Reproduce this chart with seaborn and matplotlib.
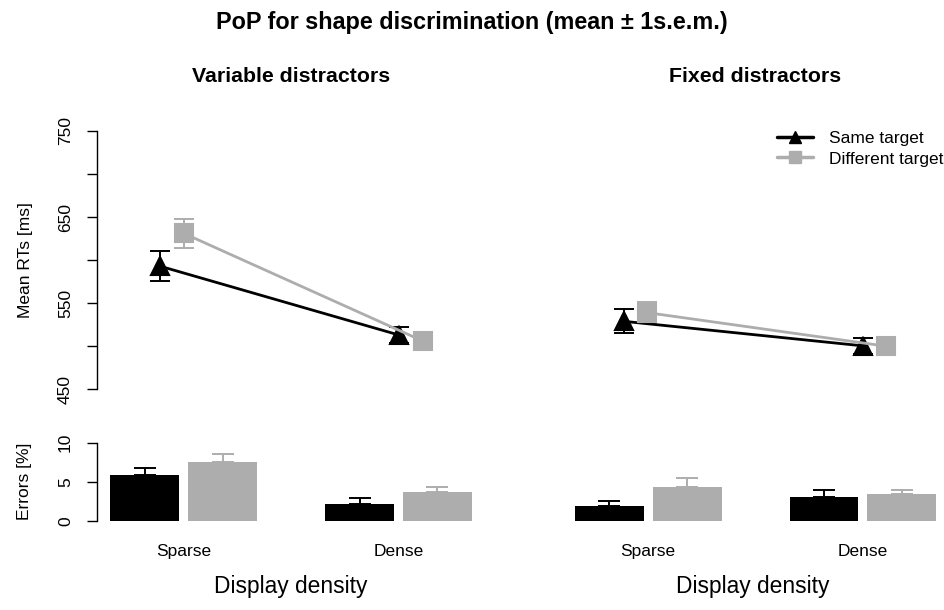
import matplotlib
matplotlib.use("Agg")
import matplotlib.pyplot as plt
from matplotlib.lines import Line2D
import pandas as pd
import seaborn as sns

# ---- data -------------------------------------------------------------
densities = ["Sparse", "Dense"]
targets = ["Same target", "Different target"]
conditions = ["Variable distractors", "Fixed distractors"]

# mean reaction times [ms] and s.e.m., ordered Sparse, Dense
rt_same_variable = [593, 513]
rt_same_variable_sem = [17.5, 9.5]
rt_diff_variable = [631, 506]
rt_diff_variable_sem = [16.5, 7.5]

rt_same_fixed = [529, 500.5]
rt_same_fixed_sem = [14, 9.5]
rt_diff_fixed = [539, 500]
rt_diff_fixed_sem = [12, 8]

# error rates [%] and s.e.m., ordered Sparse, Dense
err_same_variable = [5.8, 2.2]
err_same_variable_sem = [0.95, 0.72]
err_diff_variable = [7.55, 3.65]
err_diff_variable_sem = [1.0, 0.64]

err_same_fixed = [1.9, 3.0]
err_same_fixed_sem = [0.61, 0.94]
err_diff_fixed = [4.35, 3.4]
err_diff_fixed_sem = [1.11, 0.56]

BLACK = "#000000"
GRAY = "#ADADAD"
palette = [BLACK, GRAY]

panels = {
    "Variable distractors": dict(
        rt=(rt_same_variable, rt_diff_variable),
        rt_sem=(rt_same_variable_sem, rt_diff_variable_sem),
        err=(err_same_variable, err_diff_variable),
        err_sem=(err_same_variable_sem, err_diff_variable_sem),
    ),
    "Fixed distractors": dict(
        rt=(rt_same_fixed, rt_diff_fixed),
        rt_sem=(rt_same_fixed_sem, rt_diff_fixed_sem),
        err=(err_same_fixed, err_diff_fixed),
        err_sem=(err_same_fixed_sem, err_diff_fixed_sem),
    ),
}


def long_table(values):
    rows = []
    for tgt, vals in zip(targets, values):
        for dens, v in zip(densities, vals):
            rows.append({"density": dens, "target": tgt, "value": v})
    return pd.DataFrame(rows)


# ---- figure -----------------------------------------------------------
sns.set_style("white")
plt.rcParams["font.family"] = ["Liberation Sans", "DejaVu Sans"]
plt.rcParams.update({
    "axes.linewidth": 1.0,
    "axes.edgecolor": "black",
    "axes.labelcolor": "black",
    "text.color": "black",
    "xtick.color": "black",
    "ytick.color": "black",
})

W, H = 945, 610
fig = plt.figure(figsize=(W / 100, H / 100), dpi=100)


def px_axes(left, top, width, height):
    return fig.add_axes([left / W, 1 - (top + height) / H, width / W, height / H])


LABEL_FS = 12.5

layout = {
    "Variable distractors": dict(top=(96.7, 389.6, (-0.315, 1.315)),
                                 bottom=(96.7, 387.6, (-0.406, 1.40)),
                                 title_x=291),
    "Fixed distractors": dict(top=(560.2, 381.2, (-0.315, 1.28)),
                              bottom=(561.1, 383.3, (-0.406, 1.38)),
                              title_x=755),
}

for i, cond in enumerate(conditions):
    d = panels[cond]
    lay = layout[cond]

    # ---- reaction times: points joined by lines ----
    left, width, xlim = lay["top"]
    ax = px_axes(left, 131, width, 258.3)
    df_rt = long_table(d["rt"])
    sns.pointplot(data=df_rt, x="density", y="value", hue="target",
                  order=densities, hue_order=targets, palette=palette,
                  markers=["^", "s"], linestyles=["-", "-"], dodge=0.1,
                  errorbar=None, legend=False, ax=ax,
                  markersize=12.5, linewidth=2.0)
    series_lines = list(ax.lines)[:2]
    for line, sems, col in zip(series_lines, d["rt_sem"], palette):
        ax.errorbar(line.get_xdata(), line.get_ydata(), yerr=sems, fmt="none",
                    ecolor=col, elinewidth=1.4, capsize=7, capthick=1.4,
                    zorder=1.5)
    ax.set_xlim(*xlim)
    ax.set_ylim(450, 750)
    ax.set_xticks([])
    ax.set_xlabel("")
    for s in ("top", "right", "bottom"):
        ax.spines[s].set_visible(False)
    if i == 0:
        yt = [450, 500, 550, 600, 650, 700, 750]
        ax.set_yticks(yt)
        ax.set_yticklabels([str(v) if v % 100 == 50 else "" for v in yt],
                           rotation=90, va="center")
        ax.tick_params(axis="y", left=True, length=7, width=1, pad=10,
                       labelsize=LABEL_FS, colors="black")
        ax.set_ylabel("Mean RTs [ms]", fontsize=LABEL_FS)
        ax.yaxis.set_label_coords(-0.163, 0.5)
    else:
        ax.spines["left"].set_visible(False)
        ax.set_yticks([])
        ax.set_ylabel("")
        handles = [
            Line2D([], [], color=BLACK, lw=2.5, marker="^", markersize=9),
            Line2D([], [], color=GRAY, lw=2.5, marker="s", markersize=8),
        ]
        ax.legend(handles, targets, loc="upper right",
                  bbox_to_anchor=(943 / W, 1 - 131 / H),
                  bbox_transform=fig.transFigure, frameon=False,
                  fontsize=LABEL_FS, handlelength=2.1, handletextpad=0.9,
                  labelspacing=0.3, borderpad=0, borderaxespad=0)

    fig.text(lay["title_x"] / W, 1 - 77 / H, cond, ha="center", va="center",
             fontsize=15.3, fontweight="bold")

    # ---- error rates: bars ----
    left, width, xlim = lay["bottom"]
    axb = px_axes(left, 442.7, width, 78)
    df_err = long_table(d["err"])
    sns.barplot(data=df_err, x="density", y="value", hue="target",
                order=densities, hue_order=targets, palette=palette,
                width=0.724, gap=0.112, errorbar=None, saturation=1,
                legend=False, ax=axb, edgecolor="none")
    for container, sems, col in zip(axb.containers, d["err_sem"], palette):
        for bar, s in zip(container, sems):
            xc = bar.get_x() + bar.get_width() / 2
            axb.errorbar([xc], [bar.get_height()], yerr=[[0], [s]], fmt="none",
                         ecolor=col, elinewidth=1.4, capsize=8, capthick=1.4)
    axb.set_xlim(*xlim)
    axb.set_ylim(0, 10)
    for s in ("top", "right", "bottom"):
        axb.spines[s].set_visible(False)
    axb.tick_params(axis="x", bottom=False, length=0, pad=16.5,
                    labelsize=LABEL_FS, colors="black")
    axb.set_xlabel("Display density", fontsize=16.4, labelpad=12)
    if i == 0:
        axb.set_yticks([0, 5, 10])
        axb.set_yticklabels(["0", "5", "10"], rotation=90, va="center")
        axb.tick_params(axis="y", left=True, length=7, width=1, pad=10,
                        labelsize=LABEL_FS, colors="black")
        axb.set_ylabel("Errors [%]", fontsize=LABEL_FS)
        axb.yaxis.set_label_coords(-0.167, 0.5)
    else:
        axb.spines["left"].set_visible(False)
        axb.set_yticks([])
        axb.set_ylabel("")

fig.text(472 / W, 1 - 22 / H, "PoP for shape discrimination (mean \u00b1 1s.e.m.)",
         ha="center", va="center", fontsize=16.8, fontweight="bold")

fig.savefig("out.png", dpi=100)
